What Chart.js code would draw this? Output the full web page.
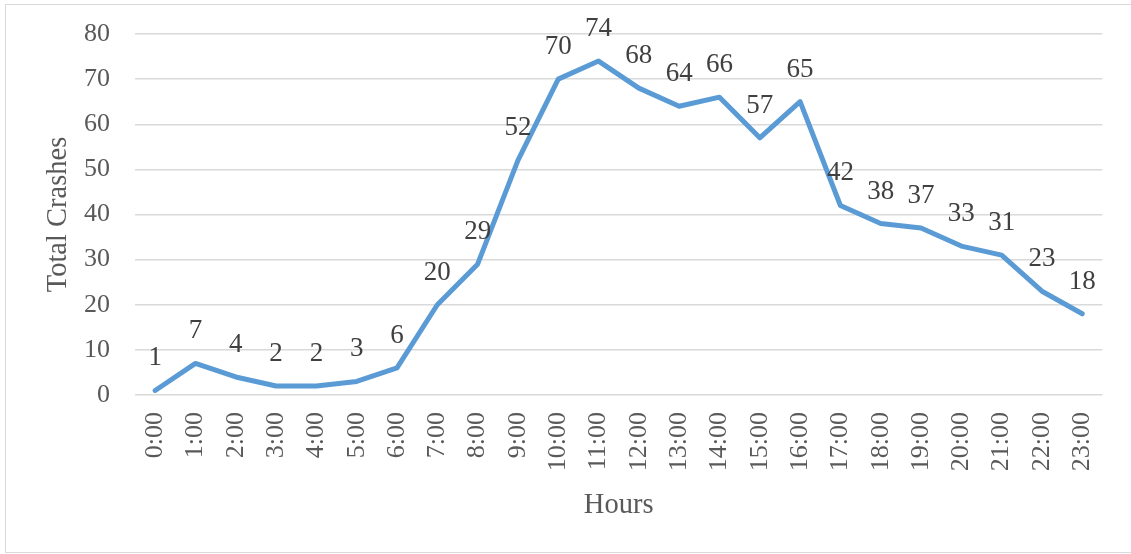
<!DOCTYPE html>
<html>
<head>
<meta charset="utf-8">
<script src="https://cdn.jsdelivr.net/npm/chart.js@4/dist/chart.umd.min.js"></script>
<style>
  html, body { margin: 0; padding: 0; background: #fff; }
  #wrap { width: 1131px; height: 554px; position: relative; }
</style>
</head>
<body>
<div id="wrap"><canvas id="crashChart" width="1131" height="554"></canvas></div>
<script>
const hours = ['0:00', '1:00', '2:00', '3:00', '4:00', '5:00', '6:00', '7:00', '8:00', '9:00', '10:00', '11:00',
    '12:00', '13:00', '14:00', '15:00', '16:00', '17:00', '18:00', '19:00', '20:00', '21:00', '22:00', '23:00'];
const crashes = [1, 7, 4, 2, 2, 3, 6, 20, 29, 52, 70, 74, 68, 64, 66, 57, 65, 42, 38, 37, 33, 31, 23, 18];
const yTicks = [0, 10, 20, 30, 40, 50, 60, 70, 80];

const serif = "'Liberation Serif', 'Times New Roman', serif";

// light grey frame around the whole chart
const frame = {
    id: 'frame',
    beforeDraw(chart) {
        const ctx = chart.ctx;
        ctx.save();
        ctx.strokeStyle = '#d9d9d9';
        ctx.lineWidth = 1;
        ctx.strokeRect(5.5, 4.5, 1130, 548);
        ctx.restore();
    }
};

// value printed above each point
const pointValues = {
    id: 'pointValues',
    afterDatasetsDraw(chart) {
        const ctx = chart.ctx;
        const meta = chart.getDatasetMeta(0);
        ctx.save();
        ctx.font = '27px ' + serif;
        ctx.fillStyle = '#404040';
        ctx.textAlign = 'center';
        ctx.textBaseline = 'alphabetic';
        meta.data.forEach((pt, i) => {
            ctx.fillText(String(crashes[i]), pt.x, pt.y - 25);
        });
        ctx.restore();
    }
};

new Chart(document.getElementById('crashChart'), {
    type: 'line',
    data: {
        labels: hours,
        datasets: [{
            data: crashes,
            borderColor: '#5b9bd5',
            borderWidth: 5,
            pointRadius: 0,
            pointHoverRadius: 0,
            tension: 0,
            fill: false,
            borderCapStyle: 'round',
            borderJoinStyle: 'round'
        }]
    },
    options: {
        responsive: false,
        animation: false,
        events: [],
        layout: { padding: { left: 41, top: 34, right: 26, bottom: 31 } },
        plugins: {
            legend: { display: false },
            tooltip: { enabled: false }
        },
        scales: {
            x: {
                offset: true,
                grid: { display: false, drawTicks: false },
                border: { display: false },
                ticks: {
                    color: '#595959',
                    font: { family: serif, size: 26 },
                    minRotation: 90,
                    maxRotation: 90,
                    autoSkip: false,
                    padding: 17
                },
                title: {
                    display: true,
                    text: 'Hours',
                    color: '#595959',
                    font: { family: serif, size: 28.5 },
                    padding: 0
                },
                afterFit(scale) { scale.height = 128; }
            },
            y: {
                min: 0,
                max: 80,
                afterBuildTicks(scale) { scale.ticks = yTicks.map(v => ({ value: v })); },
                grid: { color: '#d9d9d9', lineWidth: 1.5, drawTicks: false },
                border: { display: false },
                ticks: {
                    color: '#595959',
                    font: { family: serif, size: 26 },
                    padding: 25
                },
                title: {
                    display: true,
                    text: 'Total Crashes',
                    color: '#595959',
                    font: { family: serif, size: 28.5 },
                    padding: 0
                },
                afterFit(scale) {
                    // tick padding is horizontal here, don't let it push the plot down
                    scale.width = 94;
                    scale.paddingTop = 16;
                    scale.paddingBottom = 16;
                }
            }
        }
    },
    plugins: [frame, pointValues]
});
</script>
</body>
</html>
